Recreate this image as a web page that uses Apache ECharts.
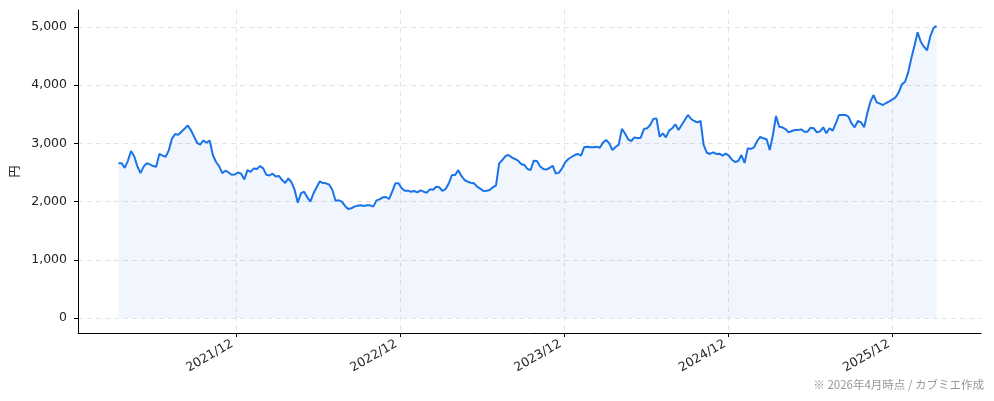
<!DOCTYPE html>
<html><head><meta charset="utf-8">
<script src="https://cdn.jsdelivr.net/npm/echarts@6/dist/echarts.min.js"></script>
<style>html,body{margin:0;padding:0;background:#fff}#c{width:994px;height:401px}</style>
</head><body><div id="c"></div>
<script>
// weekly closing prices (円), first week starting startDate
const startDate = '2021-03-15';
const stepDays = 7;
const prices = [
 2660,2660,2580,2700,2870,2780,2610,2490,2600,2660,
 2640,2610,2600,2820,2790,2770,2880,3080,3160,3150,
 3200,3250,3310,3230,3120,3010,2980,3050,3010,3050,
 2800,2680,2610,2490,2530,2500,2460,2465,2500,2480,
 2380,2540,2510,2570,2560,2610,2570,2460,2450,2480,
 2430,2440,2370,2320,2400,2330,2200,1980,2140,2170,
 2073,1999,2142,2245,2348,2319,2314,2290,2199,2015,
 2021,1999,1925,1873,1884,1913,1930,1936,1925,1936,
 1936,1913,2021,2038,2073,2079,2044,2170,2314,2314,
 2228,2188,2188,2170,2182,2159,2194,2170,2153,2210,
 2205,2256,2245,2182,2216,2314,2457,2457,2540,2440,
 2371,2342,2325,2314,2256,2222,2182,2188,2199,2245,
 2280,2657,2714,2783,2800,2760,
 2732,2703,2646,2629,2560,2543,2703,2697,2606,2560,
 2549,2577,2617,2480,2497,2571,2675,2732,2766,2800,
 2818,2789,2932,2944,2932,2932,2944,2926,3013,3058,
 3001,2886,2938,2978,3250,3170,3070,3041,3104,3087,
 3098,3247,3259,3316,3420,3430,3115,3173,3104,3219,
 3259,3327,3230,3316,3402,3488,3419,3385,3362,3385,
 2972,2840,2818,2846,2818,2824,
 2789,2823,2789,2720,2680,2697,2800,2663,2915,2904,
 2932,3041,3110,3087,3070,2887,3144,3470,3287,3276,
 3247,3190,3213,3230,3230,3241,3201,3201,3270,3259,
 3190,3207,3276,3173,3259,3219,3345,3488,3488,3488,
 3459,3345,3276,3385,3362,3276,3516,3717,
 3831,3706,3683,3660,3694,3723,3757,3792,3877,4014,
 4060,4220,4461,4679,4908,4747,4662,4600,4833,4977,5023
];
const tickDates = ['2021-12-01','2022-12-01','2023-12-01','2024-12-01','2025-12-01'];
const yTicks = [0,1000,2000,3000,4000,5000];
const xRange = ['2020-12-15','2026-06-16'];
const yRange = [-258, 5292];
const yName = '円';
const footnote = '※ 2026年4月時点 / カブミエ作成';

const ts = s => new Date(s + 'T00:00:00').getTime();
const DAY = 86400000;
const t0 = ts(startDate);
const seriesData = prices.map((v, i) => [t0 + i * stepDays * DAY, v]);
const xTicks = tickDates.map(ts);
const pad2 = n => (n < 10 ? '0' : '') + n;
const fmtDate = v => { const d = new Date(v); return d.getFullYear() + '/' + pad2(d.getMonth() + 1); };

const FONT = '"DejaVu Sans", "Noto Sans CJK JP", sans-serif';
const CJK = '"Noto Sans CJK JP", sans-serif';
const chart = echarts.init(document.getElementById('c'));
chart.setOption({
  animation: false,
  backgroundColor: '#fff',
  textStyle: { fontFamily: FONT },
  grid: { left: 75, right: 13, top: 10, bottom: 68, containLabel: false },
  xAxis: {
    type: 'value',
    min: ts(xRange[0]), max: ts(xRange[1]),
    axisLine: { show: true, onZero: false, lineStyle: { color: '#000', width: 1 } },
    axisTick: { show: true, customValues: xTicks, length: 4, inside: false, lineStyle: { color: '#000' } },
    axisLabel: {
      customValues: xTicks, rotate: 30, fontSize: 12.5, color: '#222', margin: 8, fontFamily: FONT,
      padding: [0, 4, 0, 0],
      formatter: fmtDate
    },
    splitLine: { show: true, lineStyle: { color: '#e3e3e3', type: [5, 4], width: 1 } }
  },
  yAxis: {
    type: 'value',
    min: yRange[0], max: yRange[1],
    name: yName, nameLocation: 'middle', nameGap: 58, nameRotate: 90,
    nameTextStyle: { fontSize: 12, color: '#222', fontFamily: CJK },
    axisLine: { show: true, onZero: false, lineStyle: { color: '#000', width: 1 } },
    axisTick: { show: true, customValues: yTicks, length: 4, lineStyle: { color: '#000' } },
    axisLabel: {
      customValues: yTicks, fontSize: 12.5, color: '#222', margin: 11, fontFamily: FONT,
      formatter: v => v.toLocaleString('en-US')
    },
    splitLine: { show: true, lineStyle: { color: '#e3e3e3', type: [5, 4], width: 1 } }
  },
  graphic: [{
    type: 'text', right: 10, top: 379,
    style: { text: footnote, fontSize: 11.5, fill: '#999', fontFamily: CJK }
  }],
  series: [{
    type: 'line',
    data: seriesData,
    showSymbol: false,
    symbol: 'none',
    lineStyle: { color: '#1a73e8', width: 2 },
    areaStyle: { color: 'rgba(26,115,232,0.09)', origin: 0 },
    z: 3
  }]
});
</script></body></html>
